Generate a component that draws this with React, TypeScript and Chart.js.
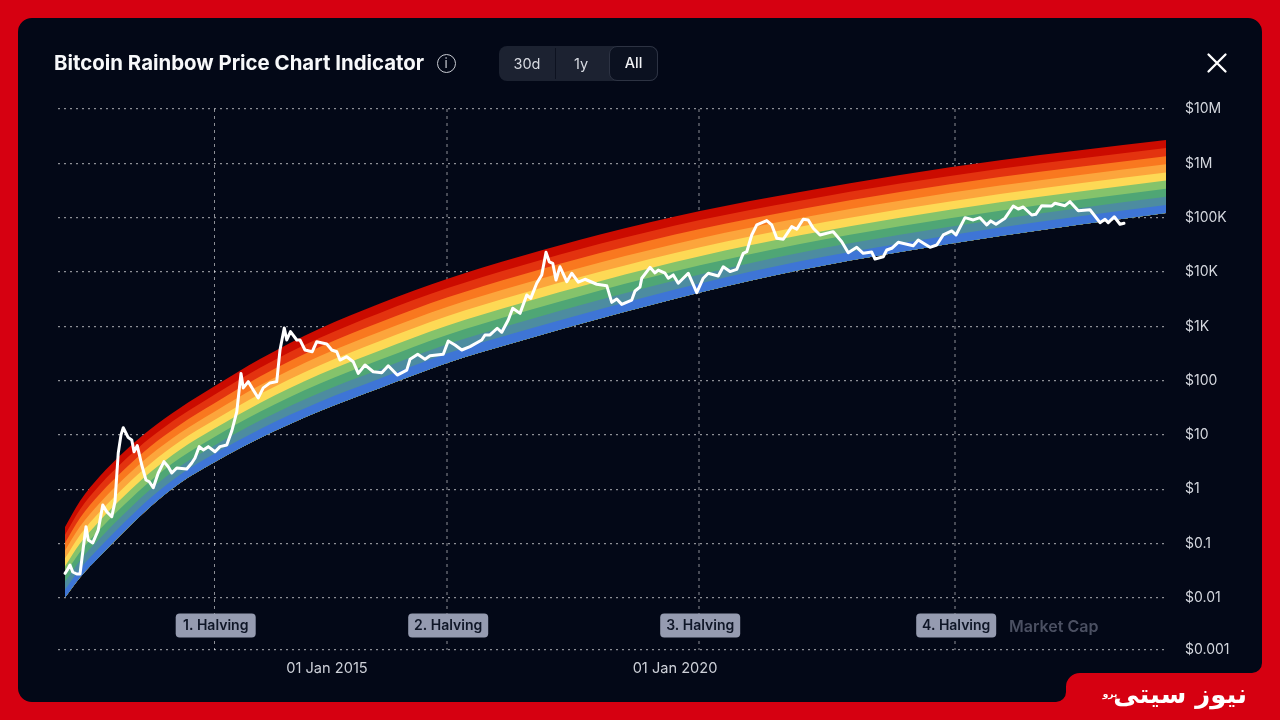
import React, { useEffect, useRef } from "react";
import { Chart, registerables } from "chart.js";

Chart.register(...registerables);

// x unit: weeks since the left edge of the axis (mid 2010). y values are log10(USD).
const bandWeeks = [5.6, 17.6, 33.6, 53.6, 73.6, 97.6, 124.8, 161.6, 209.6, 257.6, 311.2, 369.6, 433.6, 513.6, 593.6, 673.6, 753.6, 817.6, 886.4];
const bandEdge0 = [-1.992, -1.623, -1.228, -0.762, -0.326, 0.116, 0.493, 0.944, 1.441, 1.864, 2.325, 2.73, 3.144, 3.622, 4.036, 4.368, 4.662, 4.874, 5.086];
const bandEdge1 = [-1.848, -1.467, -1.064, -0.599, -0.167, 0.269, 0.648, 1.106, 1.61, 2.037, 2.497, 2.903, 3.316, 3.789, 4.196, 4.525, 4.817, 5.026, 5.235];
const bandEdge2 = [-1.704, -1.31, -0.901, -0.436, -0.009, 0.423, 0.803, 1.267, 1.779, 2.21, 2.669, 3.076, 3.488, 3.955, 4.355, 4.683, 4.972, 5.178, 5.384];
const bandEdge3 = [-1.559, -1.154, -0.737, -0.273, 0.15, 0.576, 0.959, 1.429, 1.947, 2.383, 2.84, 3.248, 3.659, 4.122, 4.515, 4.84, 5.127, 5.329, 5.534];
const bandEdge4 = [-1.415, -0.997, -0.573, -0.11, 0.308, 0.729, 1.114, 1.59, 2.116, 2.556, 3.012, 3.421, 3.831, 4.289, 4.674, 4.998, 5.282, 5.481, 5.683];
const bandEdge5 = [-1.271, -0.841, -0.41, 0.053, 0.467, 0.883, 1.269, 1.752, 2.285, 2.729, 3.184, 3.594, 4.003, 4.456, 4.834, 5.155, 5.437, 5.633, 5.832];
const bandEdge6 = [-1.127, -0.685, -0.246, 0.216, 0.626, 1.036, 1.424, 1.914, 2.454, 2.901, 3.356, 3.767, 4.175, 4.622, 4.994, 5.312, 5.591, 5.785, 5.981];
const bandEdge7 = [-0.983, -0.528, -0.082, 0.379, 0.784, 1.189, 1.579, 2.075, 2.623, 3.074, 3.528, 3.94, 4.347, 4.789, 5.153, 5.47, 5.746, 5.937, 6.13];
const bandEdge8 = [-0.838, -0.372, 0.082, 0.542, 0.943, 1.342, 1.735, 2.237, 2.791, 3.247, 3.699, 4.112, 4.518, 4.956, 5.313, 5.627, 5.901, 6.088, 6.28];
const bandEdge9 = [-0.694, -0.215, 0.245, 0.705, 1.101, 1.496, 1.89, 2.398, 2.96, 3.42, 3.871, 4.285, 4.69, 5.122, 5.472, 5.785, 6.056, 6.24, 6.429];
const bandEdges = [bandEdge0, bandEdge1, bandEdge2, bandEdge3, bandEdge4, bandEdge5, bandEdge6, bandEdge7, bandEdge8, bandEdge9];
const bandColors = ["#3e75d6", "#4d8ca0", "#4fa675", "#85c36b", "#fdd955", "#fca53c", "#f9781f", "#e3330f", "#cb0b00"];

const priceWeeks = [
  5.6, 7.4, 9.6, 11.8, 15, 17.6, 20.2, 22.4, 24.2, 27.8, 32.2, 35.8, 39, 43, 45.6, 48.2, 50.4, 52.2, 56.2, 59,
  60.8, 63.4, 67, 70.4, 73, 76.2, 80.2, 84.8, 88.2, 91, 95, 103, 107, 109.6, 113, 116.2, 120.2, 125.6, 129.6, 135,
  139, 143, 146.4, 148.2, 152.2, 156.2, 160.2, 164.2, 169.6, 175, 177.6, 181, 183, 186, 191, 193.6, 197.6, 203.4, 207, 215,
  219, 223, 225.6, 231, 236.2, 240.2, 245.6, 252.2, 259, 264.2, 271.4, 279, 281.6, 287.8, 293.6, 297.6, 308.2, 312.2, 317.6, 323,
  329.6, 339, 341.6, 345.6, 351.4, 355, 360.2, 363.8, 369.6, 375, 378.2, 383, 387, 390.4, 393, 395.8, 398.4, 401.6, 407, 411,
  416.2, 421.6, 431, 439, 443, 447, 451, 459, 461.6, 465.6, 467, 473.6, 477.6, 480.2, 485.6, 488.2, 492.2, 496.2, 504.2, 511,
  516.2, 520.2, 528.2, 532.2, 537.6, 543, 548.2, 551, 555, 559, 567, 571, 575, 580.2, 587, 591, 596.2, 600.2, 604.2, 609.6,
  620.2, 627, 632.2, 639, 644.2, 651, 653.6, 660.2, 663, 667, 672.2, 684.2, 688.2, 697.6, 703, 708.2, 715, 718.4, 725.6, 732.2,
  737.6, 743, 746.2, 750.4, 757.6, 764.2, 768.2, 772.2, 779, 782.2, 787, 795, 797.6, 805.6, 809.6, 816.2, 825.6, 833.6, 837.6, 840.2,
  845, 849.6, 852.8,
];
const priceLog10 = [
  -1.547, -1.486, -1.394, -1.523, -1.56, -1.56, -1.08, -0.69, -0.935, -0.988, -0.751, -0.289, -0.413, -0.505, -0.228, 0.668, 1.001, 1.133, 0.951, 0.909,
  0.692, 0.803, 0.447, 0.17, 0.138, 0.028, 0.299, 0.508, 0.416, 0.299, 0.391, 0.373, 0.484, 0.576, 0.785, 0.724, 0.785, 0.692, 0.785, 0.816,
  1.072, 1.423, 2.133, 1.866, 1.982, 1.829, 1.681, 1.866, 1.958, 1.982, 2.564, 2.97, 2.748, 2.901, 2.748, 2.748, 2.564, 2.532, 2.717, 2.674,
  2.564, 2.532, 2.379, 2.44, 2.348, 2.133, 2.287, 2.163, 2.144, 2.274, 2.102, 2.194, 2.392, 2.484, 2.392, 2.458, 2.484, 2.73, 2.656, 2.564,
  2.625, 2.748, 2.841, 2.841, 2.964, 2.89, 3.115, 3.331, 3.238, 3.576, 3.515, 3.792, 3.946, 4.362, 4.188, 4.159, 3.853, 4.096, 3.822, 3.977,
  3.811, 3.866, 3.774, 3.748, 3.441, 3.502, 3.404, 3.484, 3.65, 3.724, 3.885, 4.085, 3.983, 4.035, 3.977, 3.885, 3.946, 3.792, 3.977, 3.619,
  3.885, 3.977, 3.927, 4.096, 4.007, 4.048, 4.343, 4.373, 4.681, 4.866, 4.945, 4.866, 4.62, 4.602, 4.835, 4.786, 4.971, 4.958, 4.805, 4.681,
  4.742, 4.558, 4.354, 4.454, 4.343, 4.367, 4.238, 4.281, 4.404, 4.436, 4.546, 4.484, 4.589, 4.454, 4.497, 4.681, 4.755, 4.681, 5.0, 4.958,
  5.0, 4.866, 4.94, 4.879, 4.99, 5.215, 5.159, 5.196, 5.049, 5.062, 5.22, 5.215, 5.265, 5.22, 5.294, 5.128, 5.146, 4.908, 4.971, 4.908,
  5.017, 4.879, 4.897,
];

const halvingWeeks = [125.2, 311.2, 512.8, 717.6];
const halvingLabels = ["1. Halving", "2. Halving", "3. Halving", "4. Halving"];
const xTickWeeks = [215.2, 493.6];
const xTickLabels = ["01 Jan 2015", "01 Jan 2020"];
const yTickValues = [0.0011, 0.01, 0.1, 1, 10, 100, 1000, 10000, 100000, 1000000, 10000000];
const yTickLabels = ["$0.001", "$0.01", "$0.1", "$1", "$10", "$100", "$1K", "$10K", "$100K", "$1M", "$10M"];

const FONT = "Inter, 'Noto Sans', sans-serif";
const panelPath =
  "M32 18 H1248 A14 14 0 0 1 1262 32 V663 A10 10 0 0 1 1252 673 H1080 A14 14 0 0 0 1066 687 V692 A10 10 0 0 1 1056 702 H32 A14 14 0 0 1 18 688 V32 A14 14 0 0 1 32 18 Z";

const halvingBadges = {
  id: "halvingBadges",
  afterDatasetsDraw(chart: any) {
    const { ctx, scales } = chart;
    ctx.save();
    halvingWeeks.forEach((week, i) => {
      const cx = scales.x.getPixelForValue(week) + 1.2;
      const w = 80;
      const h = 24;
      ctx.beginPath();
      ctx.roundRect(cx - w / 2, 613.5, w, h, 4);
      ctx.fillStyle = "#959bb0";
      ctx.fill();
      ctx.fillStyle = "#0f1627";
      ctx.font = `600 14px ${FONT}`;
      ctx.textAlign = "center";
      ctx.textBaseline = "middle";
      ctx.fillText(halvingLabels[i], cx, 625.5);
    });
    ctx.restore();
  },
};

export default function App() {
  const ref = useRef<HTMLCanvasElement | null>(null);

  useEffect(() => {
    document.body.style.margin = "0";
    // Every band fills down to the floor; lower bands paint over higher ones, so no seams show.
    const bandSets = bandEdges.map((edge, i) => ({
      label: i === 0 ? "Band floor" : `Band ${i}`,
      data: edge.map((v, j) => ({ x: bandWeeks[j], y: 10 ** v })),
      borderWidth: 0,
      pointRadius: 0,
      cubicInterpolationMode: "monotone" as const,
      fill: i === 0 ? false : 0,
      backgroundColor: i === 0 ? "transparent" : bandColors[i - 1],
      order: 5,
    }));
    const priceSet = {
      label: "Price",
      data: priceLog10.map((v, j) => ({ x: priceWeeks[j], y: 10 ** v })),
      borderColor: "#ffffff",
      borderWidth: 3,
      borderJoinStyle: "round" as const,
      borderCapStyle: "round" as const,
      pointRadius: 0,
      tension: 0,
      fill: false,
      order: 0,
    };
    const halvingSets = halvingWeeks.map((week, i) => ({
      label: halvingLabels[i],
      data: [
        { x: week, y: yTickValues[yTickValues.length - 1] },
        { x: week, y: yTickValues[0] },
      ],
      borderColor: "rgba(255,255,255,0.55)",
      borderWidth: 1,
      borderDash: [3, 4],
      pointRadius: 0,
      fill: false,
      order: 20,
    }));

    const chart = new Chart(ref.current as HTMLCanvasElement, {
      type: "line",
      data: { datasets: [...bandSets, priceSet, ...halvingSets] as any },
      plugins: [halvingBadges],
      options: {
        animation: false,
        responsive: false,
        layout: { padding: { left: 58, top: 109, right: 0, bottom: 0 } },
        plugins: { legend: { display: false }, tooltip: { enabled: false } },
        scales: {
          x: {
            type: "linear",
            min: 0,
            max: 888,
            grid: { display: false },
            border: { display: false },
            afterBuildTicks: (s: any) => {
              s.ticks = xTickWeeks.map((value) => ({ value }));
            },
            afterFit: (s: any) => {
              s.height = 70;
            },
            ticks: {
              autoSkip: false,
              maxRotation: 0,
              padding: 2,
              color: "#cdd0d8",
              font: { family: FONT, size: 14.6 },
              callback: (v: any) => xTickLabels[xTickWeeks.indexOf(Number(v))] ?? "",
            },
          },
          y: {
            type: "logarithmic",
            position: "right",
            min: yTickValues[0],
            max: yTickValues[yTickValues.length - 1],
            border: { display: false, dash: [2, 4] },
            grid: {
              color: "rgba(255,255,255,0.55)",
              lineWidth: 1.2,
              drawTicks: false,
            },
            afterBuildTicks: (s: any) => {
              s.ticks = yTickValues.map((value) => ({ value }));
            },
            afterFit: (s: any) => {
              s.width = 112;
            },
            ticks: {
              autoSkip: false,
              padding: 17,
              color: "#d4d7de",
              font: { family: FONT, size: 14 },
              callback: (v: any) => yTickLabels[yTickValues.indexOf(Number(v))] ?? "",
            },
          },
        },
      } as any,
    });
    return () => chart.destroy();
  }, []);

  const btn = (text: string, left: number, width: number, extra: React.CSSProperties = {}) => (
    <div
      style={{
        position: "absolute",
        left,
        top: 46,
        width,
        height: 35,
        lineHeight: "35px",
        textAlign: "center",
        fontSize: 14.5,
        color: "#d8dbe2",
        boxSizing: "border-box",
        ...extra,
      }}
    >
      {text}
    </div>
  );

  return (
    <div style={{ position: "relative", width: 1280, height: 720, overflow: "hidden", background: "#d60011", fontFamily: FONT }}>
      <div style={{ position: "absolute", inset: 0, background: "#030817", clipPath: `path('${panelPath}')` }} />
      <canvas ref={ref} width={1280} height={720} style={{ position: "absolute", left: 0, top: 0, display: "block" }} />

      <div style={{ position: "absolute", left: 54, top: 49, fontSize: 20.4, lineHeight: "28px", fontWeight: 700, color: "#f7f8fa", whiteSpace: "nowrap" }}>
        Bitcoin Rainbow Price Chart Indicator
      </div>
      <div
        style={{
          position: "absolute",
          left: 436.5,
          top: 53.5,
          width: 19,
          height: 19,
          lineHeight: "17px",
          border: "1.5px solid #c9ccd3",
          borderRadius: "50%",
          boxSizing: "border-box",
          color: "#c9ccd3",
          fontSize: 13,
          textAlign: "center",
        }}
      >
        i
      </div>

      <div style={{ position: "absolute", left: 499, top: 46, width: 159, height: 35, borderRadius: 8, background: "#1c2231" }} />
      <div style={{ position: "absolute", left: 555, top: 48, width: 1, height: 31, background: "#0d1220" }} />
      {btn("30d", 499, 56)}
      {btn("1y", 555, 52)}
      {btn("All", 609, 49, { background: "#0b1120", border: "1.5px solid #2d3343", borderRadius: 8, color: "#f2f3f6", lineHeight: "32px", fontWeight: 500 })}

      <svg style={{ position: "absolute", left: 1205, top: 51 }} width="24" height="24" viewBox="0 0 24 24">
        <path d="M3.5 3.5 L20.5 20.5 M20.5 3.5 L3.5 20.5" stroke="#ffffff" strokeWidth="2.3" strokeLinecap="round" />
      </svg>

      <div style={{ position: "absolute", left: 1009, top: 615, fontSize: 16, lineHeight: "22px", fontWeight: 600, color: "#4b5062", whiteSpace: "nowrap" }}>
        Market Cap
      </div>

      <div dir="rtl" style={{ position: "absolute", left: 1117, top: 676, width: 130, fontFamily: "'DejaVu Sans', sans-serif", fontSize: 26, lineHeight: "36px", fontWeight: 700, color: "#ffffff", whiteSpace: "nowrap", textAlign: "center" }}>
        نیوز سیتی
      </div>
      <div dir="rtl" style={{ position: "absolute", left: 1101, top: 688, width: 18, fontFamily: "'DejaVu Sans', sans-serif", fontSize: 9, lineHeight: "12px", fontWeight: 700, color: "#ffffff", whiteSpace: "nowrap", textAlign: "center" }}>
        پرو
      </div>
    </div>
  );
}
